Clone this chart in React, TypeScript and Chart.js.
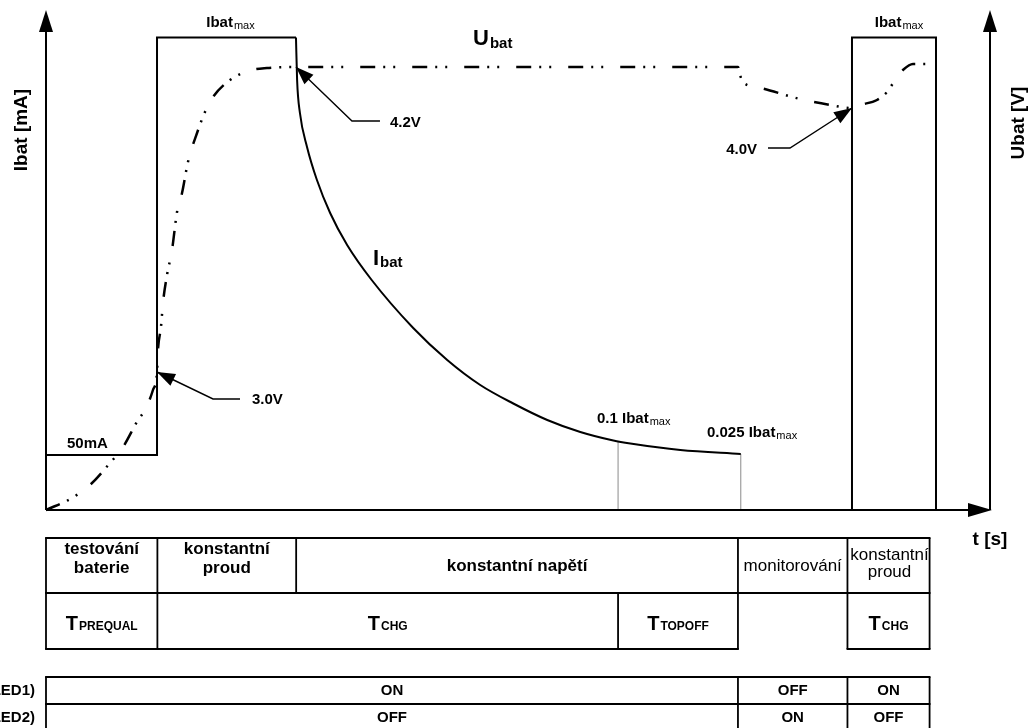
import React, { useEffect, useRef } from 'react';
import { Chart, registerables } from 'chart.js';

Chart.register(...registerables);

// time axis in arbitrary units (0..100); current / voltage in % of axis height
const phaseEdges = [0, 11.8, 26.5, 60.6, 73.3, 84.9, 93.6];

const ibatStepT = [0, 11.76, 11.76, 26.48];
const ibatStepI = [11, 11, 94.5, 94.5];

const ibatDecayT = [26.48, 26.6, 26.9, 27.65, 28.7, 30.1, 31.9, 34.5, 38.9, 42.5, 46.0, 49.5, 53.1, 56.6, 60.1, 61.9, 67.2, 73.6];
const ibatDecayI = [94.5, 86, 79.4, 72.6, 66, 59.4, 53, 46, 36.4, 30, 25.0, 21.3, 18, 15.6, 13.9, 13.3, 12.0, 11.2];

const ibatPulse2T = [85.38, 85.38, 94.28, 94.28];
const ibatPulse2I = [0, 94.5, 94.5, 0];

const markLineT = [60.6, 73.6];
const markLineI = [13.7, 11.2];

const ubatT = [0, 2.75, 4.66, 6.78, 8.16, 9.75, 10.49, 11.33, 11.76, 11.86, 12.18, 12.39, 12.82, 13.35, 13.88, 14.41, 15.04, 16.0, 16.84, 17.69, 19.49, 21.4, 23.41, 26.48, 73.31, 73.52, 73.83, 75.32, 79.87, 83.05, 85.38, 86.23, 88.03, 89.09, 90.15, 90.78, 91.84, 93.33];
const ubatU = [0, 2.4, 5, 9.4, 12.6, 18, 20, 24, 27.6, 32, 36.6, 41.4, 47, 52, 59.6, 63.4, 69.6, 75.4, 79.6, 82.6, 86, 87.8, 88.4, 88.6, 88.6, 87, 85.6, 84.6, 82.2, 81, 80.4, 81, 82, 83.6, 86.6, 88, 89.2, 89.2];

const markerT = [11.76, 26.48, 85.38];
const markerU = [27.6, 88.6, 80.4];
const markerLabels = ['3.0V', '4.2V', '4.0V'];

const phaseNames = [['testování', 'baterie'], ['konstantní', 'proud'], ['konstantní napětí'], ['monitorování'], ['konstantní', 'proud']];
const timerSubs = ['PREQUAL', 'CHG', 'TOPOFF', '', 'CHG'];
const led1States = ['ON', 'OFF', 'ON'];
const led2States = ['OFF', 'ON', 'OFF'];

const zip = (xs: number[], ys: number[]) => xs.map((x, i) => ({ x, y: ys[i] }));

const FONT = '"Liberation Sans", Arial, sans-serif';

function arrowHead(ctx: CanvasRenderingContext2D, tipX: number, tipY: number, fromX: number, fromY: number, len: number, halfW: number) {
  const ang = Math.atan2(tipY - fromY, tipX - fromX);
  ctx.save();
  ctx.translate(tipX, tipY);
  ctx.rotate(ang);
  ctx.beginPath();
  ctx.moveTo(0, 0);
  ctx.lineTo(-len, -halfW);
  ctx.lineTo(-len, halfW);
  ctx.closePath();
  ctx.fill();
  ctx.restore();
}

function subText(ctx: CanvasRenderingContext2D, x: number, y: number, main: string, sub: string, mainFont: string, subFont: string, subDy: number, align: string) {
  ctx.font = mainFont;
  const w1 = ctx.measureText(main).width;
  ctx.font = subFont;
  const w2 = sub ? ctx.measureText(sub).width + 1 : 0;
  const x0 = align === 'center' ? x - (w1 + w2) / 2 : align === 'right' ? x - w1 - w2 : x;
  ctx.textAlign = 'left';
  ctx.textBaseline = 'alphabetic';
  ctx.font = mainFont;
  ctx.fillText(main, x0, y);
  if (sub) {
    ctx.font = subFont;
    ctx.fillText(sub, x0 + w1 + 1, y + subDy);
  }
}

const diagramPlugin = {
  id: 'diagram',
  afterDatasetsDraw(chart: any) {
    const ctx: CanvasRenderingContext2D = chart.ctx;
    const { left, right, top, bottom } = chart.chartArea;
    const xs = chart.scales.x;
    const yr = chart.scales.y2;
    ctx.save();
    ctx.fillStyle = '#000';
    ctx.strokeStyle = '#000';

    // axes with arrows
    ctx.lineWidth = 2;
    ctx.beginPath();
    ctx.moveTo(left, bottom); ctx.lineTo(left, top + 20);
    ctx.moveTo(left, bottom); ctx.lineTo(right - 20, bottom);
    ctx.moveTo(right, bottom); ctx.lineTo(right, top + 20);
    ctx.stroke();
    arrowHead(ctx, left, top, left, bottom, 22, 7);
    arrowHead(ctx, right + 2, bottom, left, bottom, 24, 7);
    arrowHead(ctx, right, top, right, bottom, 22, 7);

    // axis titles
    ctx.font = `bold 19px ${FONT}`;
    ctx.textAlign = 'center';
    ctx.textBaseline = 'middle';
    ctx.save(); ctx.translate(22, 130); ctx.rotate(-Math.PI / 2); ctx.fillText('Ibat [mA]', 0, 0); ctx.restore();
    ctx.save(); ctx.translate(1019, 123); ctx.rotate(-Math.PI / 2); ctx.fillText('Ubat [V]', 0, 0); ctx.restore();
    ctx.fillText('t [s]', 990, 540);

    // voltage markers with leader lines
    const offs = [
      { ex: 56, ey: 27, lx: 83, tx: 95, ty: 32, align: 'left' },
      { ex: 56, ey: 54, lx: 84, tx: 94, ty: 60, align: 'left' },
      { ex: -62, ey: 40, lx: -84, tx: -95, ty: 46, align: 'right' },
    ];
    markerT.forEach((t, i) => {
      const px = xs.getPixelForValue(t);
      const py = yr.getPixelForValue(markerU[i]);
      const o = offs[i];
      ctx.lineWidth = 1.4;
      ctx.beginPath();
      ctx.moveTo(px + o.lx, py + o.ey);
      ctx.lineTo(px + o.ex, py + o.ey);
      ctx.lineTo(px, py);
      ctx.stroke();
      arrowHead(ctx, px, py, px + o.ex, py + o.ey, 18, 6.5);
      ctx.font = `bold 15px ${FONT}`;
      ctx.textAlign = o.align as CanvasTextAlign;
      ctx.textBaseline = 'alphabetic';
      ctx.fillText(markerLabels[i], px + o.tx, py + o.ty);
    });

    // curve labels
    const bold15 = `bold 15px ${FONT}`;
    const reg11 = `11px ${FONT}`;
    const p1c = (xs.getPixelForValue(ibatStepT[1]) + xs.getPixelForValue(ibatStepT[3])) / 2 + 4;
    const p2c = (xs.getPixelForValue(ibatPulse2T[0]) + xs.getPixelForValue(ibatPulse2T[2])) / 2 + 5;
    subText(ctx, p1c, 27, 'Ibat', 'max', bold15, reg11, 1.5, 'center');
    subText(ctx, p2c, 27, 'Ibat', 'max', bold15, reg11, 1.5, 'center');
    subText(ctx, 473, 45, 'U', 'bat', `bold 22px ${FONT}`, bold15, 3, 'left');
    subText(ctx, 373, 265, 'I', 'bat', `bold 22px ${FONT}`, bold15, 2, 'left');
    subText(ctx, 597, 423, '0.1 Ibat', 'max', bold15, reg11, 1.5, 'left');
    subText(ctx, 707, 437, '0.025 Ibat', 'max', bold15, reg11, 1.5, 'left');
    ctx.font = bold15;
    ctx.textAlign = 'left';
    ctx.fillText('50mA', 67, 448);
    ctx.restore();
  },
  afterDraw(chart: any) {
    const ctx: CanvasRenderingContext2D = chart.ctx;
    const xs = chart.scales.x;
    const ex = phaseEdges.map((t) => xs.getPixelForValue(t));
    const T1_TOP = 538, T1_MID = 593, T1_BOT = 649;
    const T2_TOP = 677, T2_MID = 704, T2_BOT = 731;
    ctx.save();
    ctx.strokeStyle = '#000';
    ctx.fillStyle = '#000';
    ctx.lineWidth = 1.8;
    const seg = (x1: number, y1: number, x2: number, y2: number) => {
      ctx.beginPath(); ctx.moveTo(x1, y1); ctx.lineTo(x2, y2); ctx.stroke();
    };
    // phase table
    seg(ex[0] - 0.9, T1_TOP, ex[6] + 0.9, T1_TOP);
    seg(ex[0] - 0.9, T1_MID, ex[6] + 0.9, T1_MID);
    seg(ex[0] - 0.9, T1_BOT, ex[4] + 0.9, T1_BOT);
    seg(ex[5] - 0.9, T1_BOT, ex[6] + 0.9, T1_BOT);
    [0, 1, 4, 5, 6].forEach((i) => seg(ex[i], T1_TOP, ex[i], T1_BOT));
    seg(ex[2], T1_TOP, ex[2], T1_MID);
    seg(ex[3], T1_MID, ex[3], T1_BOT);
    // LED table
    [T2_TOP, T2_MID, T2_BOT].forEach((y) => seg(ex[0] - 0.9, y, ex[6] + 0.9, y));
    [0, 4, 5, 6].forEach((i) => seg(ex[i], T2_TOP, ex[i], T2_BOT));

    // phase names
    const spans1 = [[0, 1], [1, 2], [2, 4], [4, 5], [5, 6]];
    ctx.textAlign = 'center';
    ctx.textBaseline = 'alphabetic';
    phaseNames.forEach((lines, i) => {
      const cx = (ex[spans1[i][0]] + ex[spans1[i][1]]) / 2;
      if (i === 3) {
        ctx.font = `17px ${FONT}`;
        ctx.fillText(lines[0], cx, 571);
      } else if (i === 4) {
        ctx.font = `17px ${FONT}`;
        ctx.fillText(lines[0], cx + 1, 560);
        ctx.fillText(lines[1], cx + 1, 577);
      } else if (lines.length === 1) {
        ctx.font = `bold 17px ${FONT}`;
        ctx.fillText(lines[0], cx, 571);
      } else {
        ctx.font = `bold 17px ${FONT}`;
        ctx.fillText(lines[0], cx, 554);
        ctx.fillText(lines[1], cx, 573);
      }
    });
    // timers
    const spans2 = [[0, 1], [1, 3], [3, 4], [4, 5], [5, 6]];
    timerSubs.forEach((s, i) => {
      if (!s) return;
      const cx = (ex[spans2[i][0]] + ex[spans2[i][1]]) / 2;
      subText(ctx, cx, 630, 'T', s, `bold 20px ${FONT}`, `bold 12px ${FONT}`, 0, 'center');
    });
    // LED rows
    const spans3 = [[0, 4], [4, 5], [5, 6]];
    ctx.font = `bold 15px ${FONT}`;
    ctx.textAlign = 'center';
    ctx.textBaseline = 'middle';
    led1States.forEach((s, i) => ctx.fillText(s, (ex[spans3[i][0]] + ex[spans3[i][1]]) / 2, 691));
    led2States.forEach((s, i) => ctx.fillText(s, (ex[spans3[i][0]] + ex[spans3[i][1]]) / 2, 718));
    ctx.textAlign = 'right';
    ctx.fillText('(LED1)', 35, 691);
    ctx.fillText('(LED2)', 35, 718);
    ctx.restore();
  },
};

export default function App() {
  const ref = useRef<HTMLCanvasElement | null>(null);
  useEffect(() => {
    if (!ref.current) return;
    const base = { pointRadius: 0, borderColor: '#000', backgroundColor: '#000', fill: false, clip: false as any };
    const chart = new Chart(ref.current, {
      type: 'line',
      data: {
        datasets: [
          { ...base, label: 'Ibat', data: zip(ibatStepT, ibatStepI), borderWidth: 2, tension: 0, yAxisID: 'y' },
          { ...base, label: 'Ibat decay', data: zip(ibatDecayT, ibatDecayI), borderWidth: 2, cubicInterpolationMode: 'monotone', yAxisID: 'y' },
          { ...base, label: 'Ibat pulse', data: zip(ibatPulse2T, ibatPulse2I), borderWidth: 2, tension: 0, yAxisID: 'y' },
          { ...base, label: 'm1', data: [{ x: markLineT[0], y: 0 }, { x: markLineT[0], y: markLineI[0] }], borderColor: '#8a8a8a', borderWidth: 1, yAxisID: 'y' },
          { ...base, label: 'm2', data: [{ x: markLineT[1], y: 0 }, { x: markLineT[1], y: markLineI[1] }], borderColor: '#8a8a8a', borderWidth: 1, yAxisID: 'y' },
          { ...base, label: 'Ubat', data: zip(ubatT, ubatU), borderWidth: 2.5, borderDash: [15, 8, 2, 8, 2, 17], cubicInterpolationMode: 'monotone', yAxisID: 'y2' },
        ] as any,
      },
      options: {
        responsive: false,
        animation: false,
        devicePixelRatio: 1,
        layout: { padding: { left: 46, right: 40, top: 10, bottom: 218 } },
        plugins: { legend: { display: false }, tooltip: { enabled: false } },
        scales: {
          x: { type: 'linear', min: 0, max: 100, display: false },
          y: { type: 'linear', min: 0, max: 100, display: false },
          y2: { type: 'linear', min: 0, max: 100, display: false, position: 'right' },
        },
      } as any,
      plugins: [diagramPlugin as any],
    });
    return () => chart.destroy();
  }, []);
  return (
    <div style={{ position: 'absolute', left: 0, top: 0, width: 1030, height: 728, background: '#fff', overflow: 'hidden' }}>
      <canvas ref={ref} width={1030} height={728} style={{ display: 'block' }} />
    </div>
  );
}
